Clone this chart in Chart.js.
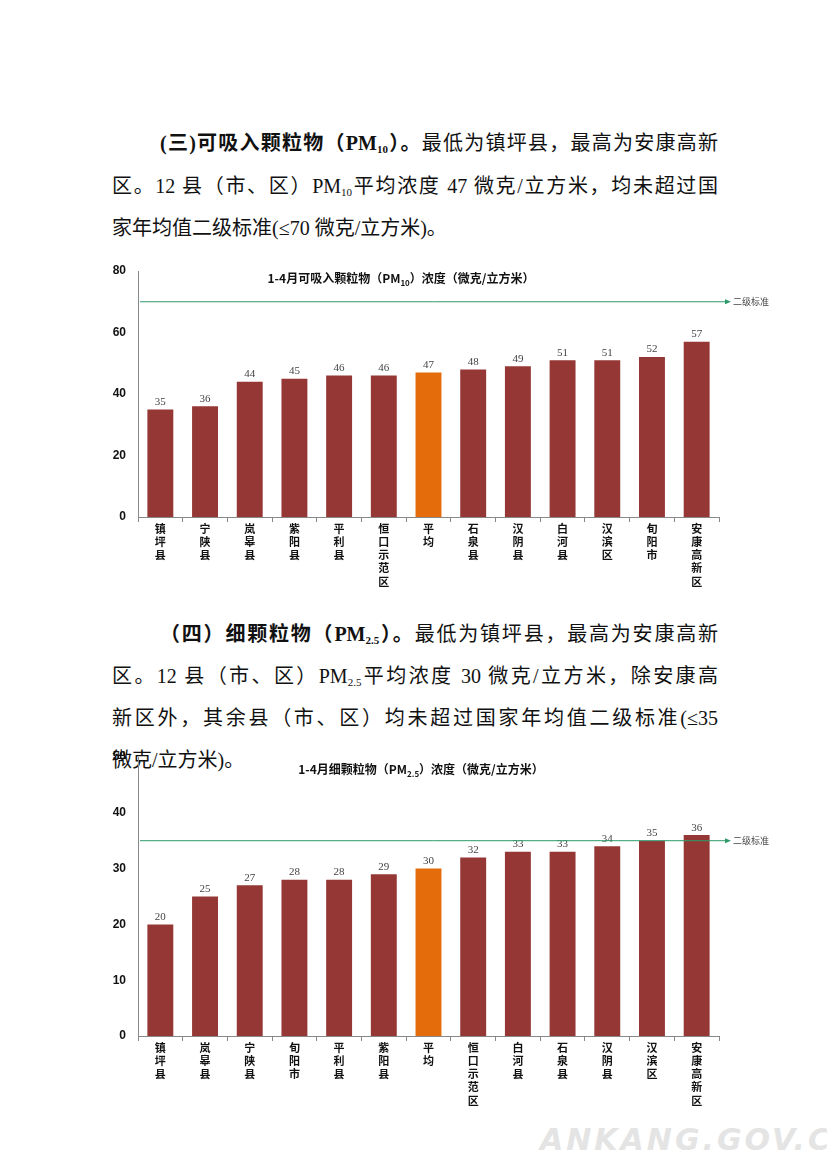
<!DOCTYPE html>
<html><head><meta charset="utf-8">
<script src="https://cdn.jsdelivr.net/npm/chart.js@4/dist/chart.umd.min.js"></script>
<style>
body{margin:0;background:#fff;width:827px;height:1169px;position:relative;overflow:hidden;font-family:"Liberation Serif","Noto Sans CJK SC",serif;}
.ln{position:absolute;font-size:20px;line-height:24px;color:#111;text-align:justify;text-align-last:justify;white-space:nowrap;}
.ln b{font-weight:bold}
sub{font-size:11px;vertical-align:-3px}
.box{position:absolute;left:100px;width:700px}
.wm{position:absolute;left:540px;top:1122px;font:italic bold 30px "DejaVu Sans";color:#e4e4e4;letter-spacing:3px}
</style></head><body>
<div class="ln" style="left:160px;top:131px;width:558px"><b>(三)可吸入颗粒物（PM<sub>10</sub>）。</b>最低为镇坪县，最高为安康高新</div>
<div class="ln" style="left:112px;top:174px;width:606px">区。12 县（市、区）PM<sub>10</sub>平均浓度 47 微克/立方米，均未超过国</div>
<div class="ln" style="left:112px;top:216px;width:362px;text-align-last:left">家年均值二级标准(≤70 微克/立方米)。</div>
<div class="ln" style="left:160px;top:622px;width:558px"><b>（四）细颗粒物（PM<sub>2.5</sub>）。</b>最低为镇坪县，最高为安康高新</div>
<div class="ln" style="left:112px;top:664px;width:606px">区。12 县（市、区）PM<sub>2.5</sub>平均浓度 30 微克/立方米，除安康高</div>
<div class="ln" style="left:112px;top:706px;width:606px">新区外，其余县（市、区）均未超过国家年均值二级标准(≤35</div>
<div class="ln" style="left:112px;top:748px;width:160px;text-align-last:left">微克/立方米)。</div>
<div class="box" style="top:255px;height:345px"><canvas id="c1"></canvas></div>
<div class="box" style="top:741px;height:370px"><canvas id="c2"></canvas></div>
<div class="wm">ANKANG.GOV.CN</div>
<script>
// PM10 数据
const pm10Labels = ['镇坪县', '宁陕县', '岚皋县', '紫阳县', '平利县', '恒口示范区', '平均', '石泉县', '汉阴县', '白河县', '汉滨区', '旬阳市', '安康高新区'];
const pm10Values = [35, 36, 44, 45, 46, 46, 47, 48, 49, 51, 51, 52, 57];
const pm10Standard = 70;
const pm10Ticks = [0, 20, 40, 60, 80];

// PM2.5 数据
const pm25Labels = ['镇坪县', '岚皋县', '宁陕县', '旬阳市', '平利县', '紫阳县', '平均', '恒口示范区', '白河县', '石泉县', '汉阴县', '汉滨区', '安康高新区'];
const pm25Values = [20, 25, 27, 28, 28, 29, 30, 32, 33, 33, 34, 35, 36];
const pm25Standard = 35;
const pm25Ticks = [0, 10, 20, 30, 40, 50];

const cjk = '"Noto Sans CJK SC", sans-serif';

const extras = {
    id: 'extras',
    afterDatasetsDraw(chart, args, o) {
        const ctx = chart.ctx, a = chart.chartArea, y = chart.scales.y;
        ctx.save();
        // 数值标签
        const meta = chart.getDatasetMeta(0);
        ctx.fillStyle = '#444';
        ctx.font = '11px "Liberation Serif"';
        ctx.textAlign = 'center';
        ctx.textBaseline = 'bottom';
        meta.data.forEach((b, i) => ctx.fillText(chart.data.datasets[0].data[i], b.x, b.y - 2));
        // 二级标准线
        const sy = y.getPixelForValue(o.std);
        ctx.strokeStyle = '#2e9a6a';
        ctx.lineWidth = 1;
        ctx.beginPath(); ctx.moveTo(a.left + 2, sy); ctx.lineTo(a.right + 8, sy); ctx.stroke();
        ctx.fillStyle = '#2e9a6a';
        ctx.beginPath(); ctx.moveTo(a.right + 12, sy); ctx.lineTo(a.right + 6, sy - 2.5); ctx.lineTo(a.right + 6, sy + 2.5); ctx.fill();
        ctx.fillStyle = '#444';
        ctx.font = '9px ' + cjk;
        ctx.textAlign = 'left'; ctx.textBaseline = 'middle';
        ctx.fillText('二级标准', a.right + 14, sy);
        // 标题（带下标）
        ctx.fillStyle = '#111';
        ctx.textBaseline = 'alphabetic';
        const big = 'bold 12px ' + cjk, small = 'bold 8px ' + cjk;
        const parts = [[o.t1, big, 0], [o.sub, small, 3], [o.t2, big, 0]];
        let w = 0;
        parts.forEach(p => { ctx.font = p[1]; w += ctx.measureText(p[0]).width; });
        let x = o.tx - w / 2;
        parts.forEach(p => { ctx.font = p[1]; ctx.fillText(p[0], x, o.ty + p[2]); x += ctx.measureText(p[0]).width; });
        ctx.restore();
    }
};

function makeChart(id, labels, values, ticks, max, std, sub, tx, ty) {
    new Chart(document.getElementById(id), {
        type: 'bar',
        data: {
            labels: labels.map(s => s.split('')),
            datasets: [{
                data: values,
                backgroundColor: labels.map(l => l === '平均' ? '#e46c0a' : '#953735'),
                categoryPercentage: 1,
                barPercentage: 0.58
            }]
        },
        options: {
            responsive: true, maintainAspectRatio: false, animation: false,
            layout: { padding: { top: 16, right: 81 } },
            plugins: {
                legend: { display: false }, tooltip: { enabled: false },
                extras: { std: std, sub: sub, t1: '1-4月' + (sub === '10' ? '可吸入颗粒物（PM' : '细颗粒物（PM'), t2: '）浓度（微克/立方米）', tx: tx, ty: ty }
            },
            scales: {
                y: {
                    min: 0, max: max,
                    afterBuildTicks: s => { s.ticks = ticks.map(v => ({ value: v })); },
                    afterFit: s => { s.width = 38; },
                    grid: { display: false, drawTicks: true },
                    border: { color: '#888' },
                    ticks: { color: '#111', font: { family: 'Liberation Sans', size: 12, weight: 'bold' }, padding: 4 }
                },
                x: {
                    afterFit: s => { s.height = id === 'c1' ? 83 : 75; },
                    grid: { offset: true, drawOnChartArea: false, tickLength: 5, color: '#888' },
                    border: { color: '#888' },
                    ticks: { color: '#111', font: { family: cjk, size: 11, weight: 'bold' }, maxRotation: 0, autoSkip: false, padding: 0 }
                }
            }
        },
        plugins: [extras]
    });
}

makeChart('c1', pm10Labels, pm10Values, pm10Ticks, 80, pm10Standard, '10', 301, 28);
makeChart('c2', pm25Labels, pm25Values, pm25Ticks, 50, pm25Standard, '2.5', 321, 33);
</script>
</body></html>
